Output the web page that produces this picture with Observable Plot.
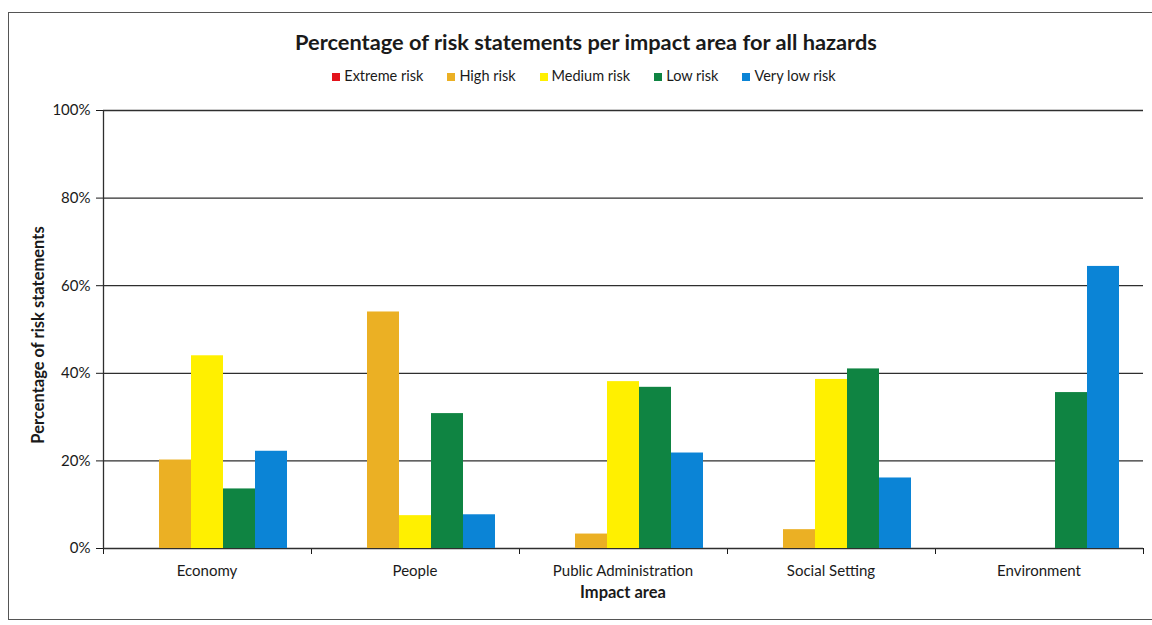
<!DOCTYPE html>
<html><head><meta charset="utf-8">
<script src="https://cdn.jsdelivr.net/npm/d3@7"></script>
<script src="https://cdn.jsdelivr.net/npm/@observablehq/plot@0.6"></script>
<style>
body{margin:0;background:#fff;font-family:Lato,"Open Sans",sans-serif;color:#1a1a1a;}
#wrap{position:relative;width:1152px;height:625px;overflow:hidden;background:#fff;}
#border{position:absolute;left:8px;top:12px;width:1160px;height:606px;border:1px solid #555;}
#title{position:absolute;top:28px;left:10px;width:1152px;text-align:center;font-weight:bold;font-size:21.8px;}
#legend{position:absolute;top:67px;left:8px;width:1152px;display:flex;justify-content:center;gap:24px;font-size:14.5px;}
#legend span.sw{display:inline-block;width:8px;height:8px;margin-right:4px;}
.layer{position:absolute;left:0;top:95px;}
#ylabel{position:absolute;left:38px;top:335px;transform:translate(-50%,-50%) rotate(-90deg);font-weight:bold;font-size:16.5px;white-space:nowrap;}
#xlabel{position:absolute;left:623px;top:582px;transform:translateX(-50%);font-weight:bold;font-size:16.5px;}
</style></head>
<body>
<div id="wrap">
  <div id="border"></div>
  <div id="title">Percentage of risk statements per impact area for all hazards</div>
  <div id="legend"></div>
  <div id="grid" class="layer"></div>
  <div id="bars" class="layer"></div>
  <div id="ylabel">Percentage of risk statements</div>
  <div id="xlabel">Impact area</div>
</div>
<script>
const areas = ["Economy", "People", "Public Administration", "Social Setting", "Environment"];
const risks = ["Extreme risk", "High risk", "Medium risk", "Low risk", "Very low risk"];
const riskColors = ["#e3131b", "#ebb024", "#fff000", "#0f8442", "#0b84d6"];
const extremeRisk = [0, 0, 0, 0, 0];
const highRisk = [20.2, 54.0, 3.3, 4.3, 0];
const mediumRisk = [44.0, 7.5, 38.1, 38.6, 0];
const lowRisk = [13.6, 30.8, 36.8, 41.0, 35.6];
const veryLowRisk = [22.2, 7.7, 21.8, 16.1, 64.4];
const yTicks = [0, 20, 40, 60, 80, 100];

const series = [extremeRisk, highRisk, mediumRisk, lowRisk, veryLowRisk];
const data = [];
areas.forEach((a, i) => risks.forEach((r, j) => data.push({area: a, risk: r, value: series[j][i]})));

// legend
const leg = document.getElementById("legend");
risks.forEach((r, j) => {
  const s = document.createElement("span");
  s.innerHTML = `<span class="sw" style="background:${riskColors[j]}"></span>${r}`;
  leg.appendChild(s);
});

const W = 1152, H = 530, mL = 103, mR = 9, mT = 15, mB = 77;
const font = {fontFamily: "Lato, 'Open Sans', sans-serif", fontSize: "15px", color: "#1a1a1a", background: "transparent"};

const grid = Plot.plot({
  width: W, height: H, marginLeft: mL, marginRight: mR, marginTop: mT, marginBottom: mB,
  style: font,
  x: {domain: [0, areas.length], ticks: d3.range(areas.length + 1), tickFormat: () => "", tickSize: 6, label: null},
  y: {domain: [0, 100], ticks: yTicks, tickFormat: d => d + "%", tickSize: 7, tickPadding: 6, label: null},
  marks: [
    Plot.ruleY(yTicks.filter(d => d > 0), {stroke: "#2e2e2e", strokeWidth: 1.3}),
    Plot.ruleY([0], {stroke: "#2e2e2e", strokeWidth: 1.3}),
    Plot.ruleX([0], {stroke: "#2e2e2e", strokeWidth: 1.3})
  ]
});
document.getElementById("grid").appendChild(grid);

const bars = Plot.plot({
  width: W, height: H, marginLeft: mL, marginRight: mR, marginTop: mT, marginBottom: mB,
  style: font,
  fx: {domain: areas, paddingInner: 0.216, paddingOuter: 0.108, axis: "bottom", tickSize: 0, tickPadding: 17, label: null},
  x: {domain: risks, padding: 0, axis: null},
  y: {domain: [0, 100], axis: null},
  color: {domain: risks, range: riskColors},
  marks: [
    Plot.barY(data, {fx: "area", x: "risk", y: "value", fill: "risk"})
  ]
});
document.getElementById("bars").appendChild(bars);
</script>
</body></html>
